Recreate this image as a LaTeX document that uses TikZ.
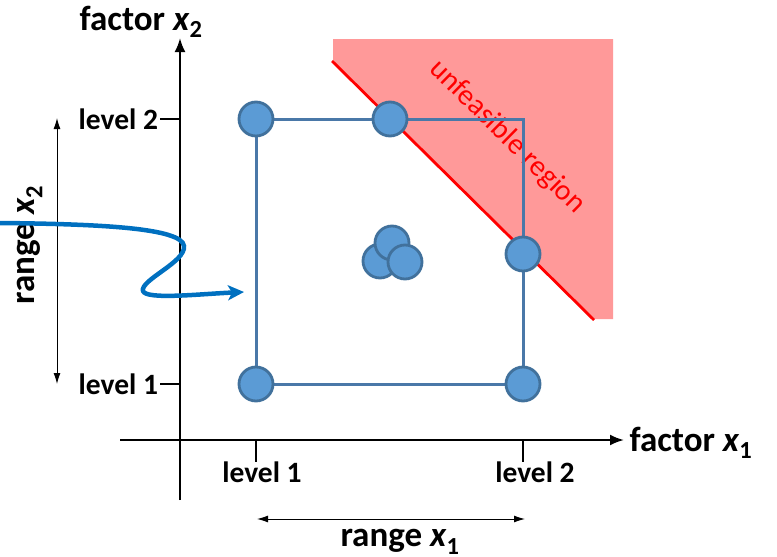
\documentclass[tikz,border=0pt]{standalone}
\usepackage{fontspec}
\setmainfont{Carlito}
\usetikzlibrary{arrows.meta}

\definecolor{ptfill}{HTML}{5B9BD5}
\definecolor{ptline}{HTML}{41719C}
\definecolor{boxline}{HTML}{4A78A8}
\definecolor{badfill}{HTML}{FF9999}
\definecolor{curveblue}{HTML}{0070C0}

\begin{document}
\begin{tikzpicture}[x=1pt, y=-1pt, font=\bfseries\fontsize{29.5}{32}\selectfont]
    \tikzstyle{axis} = [draw, line width=2.2pt, -{Latex[length=14pt,width=11pt]}]
    \tikzstyle{tick} = [draw, line width=2pt]
    \tikzstyle{rangearrow} = [draw, line width=1pt, {Latex[length=11pt,width=7pt]}-{Latex[length=11pt,width=7pt]}]
    \tikzstyle{design} = [circle, draw=ptline, fill=ptfill, line width=2.8pt, minimum size=34pt, inner sep=0pt]
    \tikzstyle{bigtext} = [font=\bfseries\fontsize{35}{38}\selectfont]

    \useasboundingbox (0,0) rectangle (777,557);

    % unfeasible region
    \fill [badfill] (333,39) -- (613,39) -- (613,319) -- (594,319) -- (333,61) -- cycle;
    \draw [red, line width=2.8pt] (332,61) -- (594,320);
    \node [red, font=\fontsize{29.5}{31}\selectfont, rotate=-44.5] (bad) at (507,137) {unfeasible region};

    % axes
    \coordinate (o) at (180,440);
    \coordinate (ytop) at (180,38);
    \coordinate (ybot) at (180,500);
    \coordinate (xleft) at (120,440);
    \coordinate (xright) at (624,440);
    \path [axis] (ybot) -- (ytop);
    \path [axis] (xleft) -- (xright);

    \node [bigtext, anchor=east] (fx2) at (206,22) {factor \textit{x}\textsubscript{2}};
    \node [bigtext, anchor=west] (fx1) at (626,443) {factor \textit{x}\textsubscript{1}};

    % corners of the design
    \coordinate (c11) at (256,384);
    \coordinate (c21) at (523,384);
    \coordinate (c12) at (256,119);
    \coordinate (c22) at (523,119);

    % ticks and levels
    \path [tick] (c12 -| o) -- +(-20,0) node [anchor=east, inner sep=1pt] (ylev2) {level 2};
    \path [tick] (c11 -| o) -- +(-20,0) node [anchor=east, inner sep=1pt] (ylev1) {level 1};
    \path [tick] (c11 |- o) -- +(0,22);
    \path [tick] (c21 |- o) -- +(0,22);
    \node (xlev1) at (262,472) {level 1};
    \node (xlev2) at (535,472) {level 2};

    % ranges
    \coordinate (r1a) at (257,519);
    \coordinate (r1b) at (525,519);
    \path [rangearrow] (r1a) -- (r1b);
    \node [bigtext] (rx1) at (400,542) {range \textit{x}\textsubscript{1}};
    \coordinate (r2a) at (57,118);
    \coordinate (r2b) at (57,384);
    \path [rangearrow] (r2a) -- (r2b);
    \node [bigtext, rotate=90] (rx2) at (30,245) {range \textit{x}\textsubscript{2}};

    % design points
    \draw [boxline, line width=3pt] (c11) -- (c21) -- (c22) -- (c12) -- cycle;
    \node [design] (p11) at (c11) {};
    \node [design] (p21) at (c21) {};
    \node [design] (p12) at (c12) {};
    \node [design] (ptop) at (390,119) {};
    \node [design] (pright) at (523,254) {};
    \node [design] (pm1) at (380,261) {};
    \node [design] (pm2) at (392,243) {};
    \node [design] (pm3) at (405,262) {};

    % curly arrow
    \coordinate (src) at (0,223);
    \coordinate (tgt) at (244,292);
    \draw [curveblue, line width=4.5pt, -{Stealth[length=16pt,width=15pt,inset=4pt]}]
        (src) .. controls (100,224) and (182,228) .. (184,246)
        .. controls (186,262) and (140,280) .. (143,291)
        .. controls (146,300) and (200,294) .. (tgt);
\end{tikzpicture}
\end{document}
